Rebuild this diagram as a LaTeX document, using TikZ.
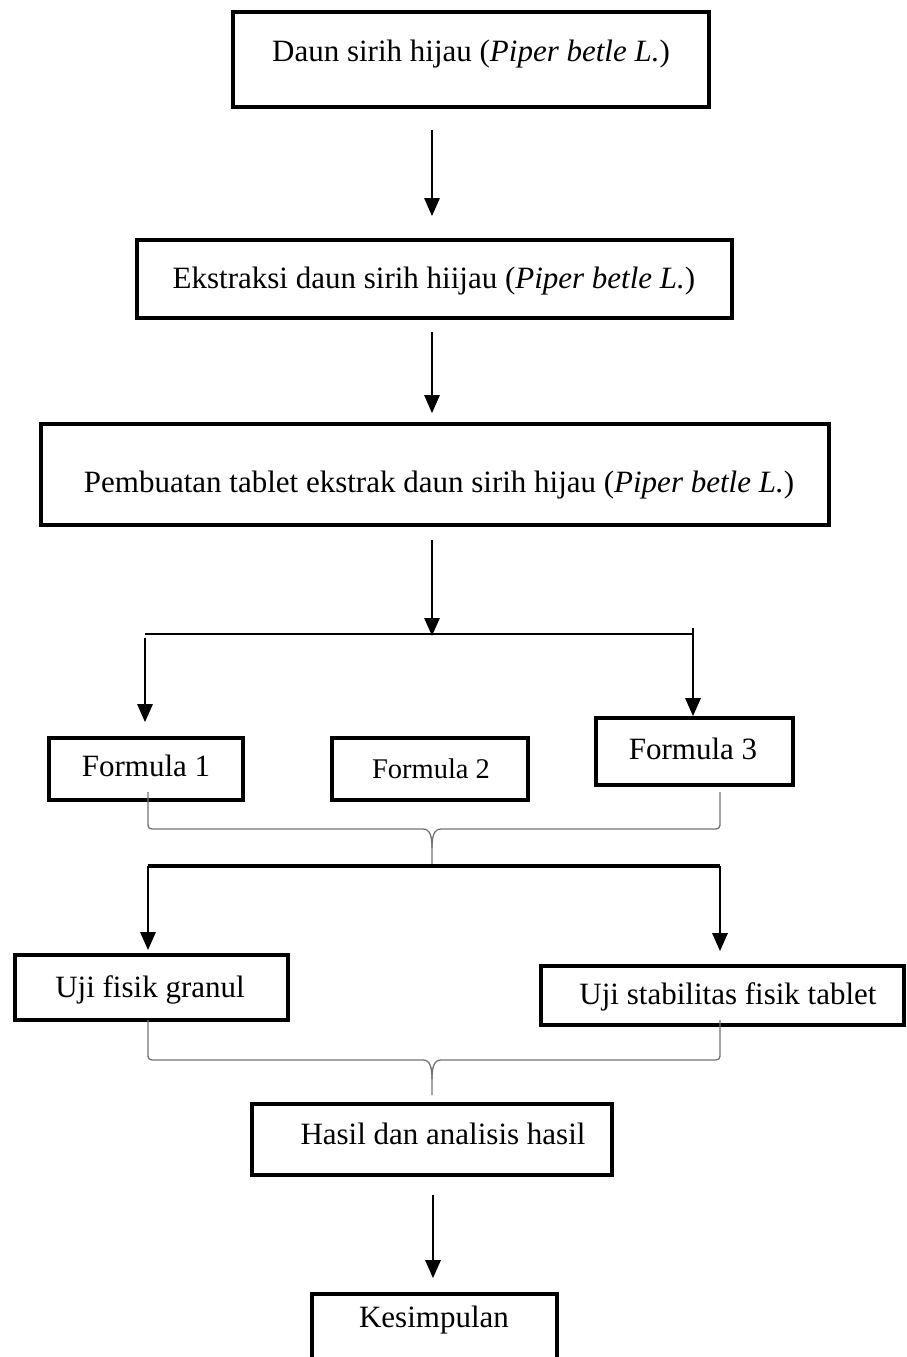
\documentclass[tikz,border=0pt]{standalone}
\usepackage{fontspec}
\setmainfont{Liberation Serif}
\usetikzlibrary{arrows.meta}
\begin{document}
\begin{tikzpicture}[x=1pt,y=-1pt,
  boxnode/.style={draw=black,line width=3.6pt,rectangle,inner sep=0pt},
  txt/.style={inner sep=0pt,text height=0.7em,text depth=0.25em,font=\fontsize{31}{36}\selectfont},
  arr/.style={line width=2.6pt,-{Triangle[length=18pt,width=15pt]}},
  thinline/.style={line width=1.8pt},
  bracepath/.style={draw=black!55,line width=1.3pt},
  thickline/.style={line width=4pt}]
\useasboundingbox (0,0) rectangle (907,1357);
% boxes
\newcommand{\mybox}[5]{\node[boxnode,minimum width={#3-#2},minimum height={#5-#4}] (#1) at ({(#2+#3)/2},{(#4+#5)/2}) {};}
\mybox{b1}{233}{709}{12}{107}
\mybox{b2}{137}{732}{240}{318}
\mybox{b3}{41}{829}{424}{525}
\mybox{f1}{49}{243}{738}{800}
\mybox{f2}{332}{528}{738}{800}
\mybox{f3}{596}{793}{718}{785}
\mybox{u1}{15}{288}{955}{1020}
\mybox{u2}{541}{904}{966}{1025}
\mybox{h}{252}{612}{1104}{1175}
\mybox{k}{312}{557}{1294}{1390}
% texts
\node[txt] (t1) at (471,59) {Daun sirih hijau (\textit{Piper betle L.})};
\node[txt] (t2) at (434,286) {Ekstraksi daun sirih hiijau (\textit{Piper betle L.})};
\node[txt] (t3) at (439,490) {Pembuatan tablet ekstrak daun sirih hijau (\textit{Piper betle L.})};
\node[txt] (tf1) at (146,774) {Formula 1};
\node[txt,font=\fontsize{28.5}{34}\selectfont] (tf2) at (431,776) {Formula 2};
\node[txt] (tf3) at (693,757) {Formula 3};
\node[txt] (tu1) at (150,995) {Uji fisik granul};
\node[txt] (tu2) at (728,1002) {Uji stabilitas fisik tablet};
\node[txt] (th) at (443,1142) {Hasil dan analisis hasil};
\node[txt] (tk) at (434,1325) {Kesimpulan};
% coordinates
\coordinate (cx) at (432,0);
\coordinate (cl) at (145,634);
\coordinate (cr) at (693,634);
\coordinate (bl) at (148,866);
\coordinate (br) at (720,866);
\coordinate (bm) at (432,866);
% main arrows
\draw[arr] ([yshift=-21pt]b1.south -| cx) -- ([yshift=22pt]b2.north -| cx);
\draw[arr] ([yshift=-12pt]b2.south -| cx) -- ([yshift=9pt]b3.north -| cx);
\draw[arr] ([yshift=-13pt]b3.south -| cx) -- ([yshift=-2pt]cl -| cx);
% split line
\draw[thinline] (cl) -- (cr);
\draw[line width=1.3pt] ([yshift=6pt]cr) -- ([yshift=-7pt]cr);
\draw[arr] ([yshift=-4pt]cl) -- ([yshift=14pt]f1.north -| cl);
\draw[arr] (cr) -- (f3.north -| cr);
% brace 1
\draw[bracepath] (148,792) -- (148,821) .. controls (148,829) .. (157,829) -- (423,829)
  .. controls (430,829) and (432,836) .. (432,848) -- (bm);
\draw[bracepath] (720,792) -- (720,821) .. controls (720,829) .. (711,829) -- (441,829)
  .. controls (434,829) and (432,836) .. (432,848);
% thick line
\draw[thickline] (bl) -- (br);
\draw[arr] (bl) -- ([yshift=3pt]u1.north -| bl);
\draw[arr] (br) -- ([yshift=13pt]u2.north -| br);
% brace 2
\coordinate (hm) at (432,1095);
\draw[bracepath] (148,1020) -- (148,1052) .. controls (148,1060) .. (157,1060) -- (423,1060)
  .. controls (430,1060) and (432,1067) .. (432,1079) -- (hm);
\draw[bracepath] (720,1020) -- (720,1052) .. controls (720,1060) .. (711,1060) -- (441,1060)
  .. controls (434,1060) and (432,1067) .. (432,1079);
% last arrow
\coordinate (cx2) at (433,0);
\draw[arr] ([yshift=-18pt]h.south -| cx2) -- ([yshift=14pt]k.north -| cx2);
\end{tikzpicture}
\end{document}
